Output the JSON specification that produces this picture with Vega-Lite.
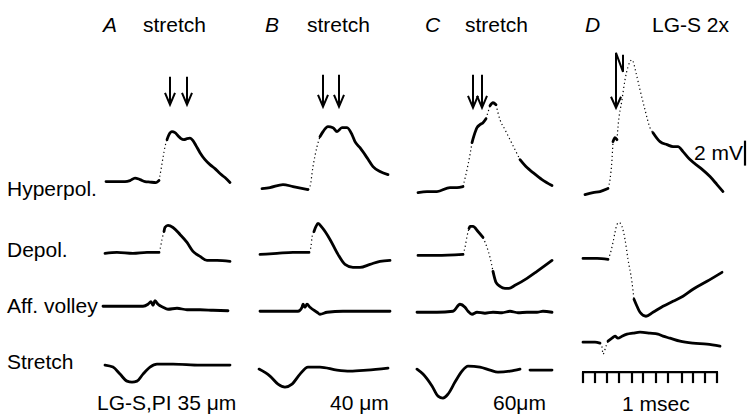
{
  "$schema": "https://vega.github.io/schema/vega-lite/v6.json",
  "width": 747,
  "height": 415,
  "padding": 0,
  "autosize": {"type": "fit", "contains": "padding"},
  "background": "white",
  "config": {"view": {"stroke": null}},
  "datasets": {
    "traces": [
      {"seg":"A-h-1","k":"slow","x":106,"y":182},{"seg":"A-h-1","k":"slow","x":115,"y":182},{"seg":"A-h-1","k":"slow","x":125,"y":182},{"seg":"A-h-1","k":"slow","x":130,"y":181},{"seg":"A-h-1","k":"slow","x":135,"y":178.5},{"seg":"A-h-1","k":"slow","x":140,"y":180},{"seg":"A-h-1","k":"slow","x":145,"y":182},{"seg":"A-h-1","k":"slow","x":150,"y":182.5},{"seg":"A-h-1","k":"slow","x":156,"y":183},{"seg":"A-h-1","k":"slow","x":159,"y":181},
      {"seg":"A-h-2","k":"fast","x":159,"y":181},{"seg":"A-h-2","k":"fast","x":161,"y":170},{"seg":"A-h-2","k":"fast","x":163,"y":158},{"seg":"A-h-2","k":"fast","x":165,"y":147},{"seg":"A-h-2","k":"fast","x":167,"y":140},
      {"seg":"A-h-3","k":"slow","x":167,"y":140},{"seg":"A-h-3","k":"slow","x":169,"y":135},{"seg":"A-h-3","k":"slow","x":172,"y":132},{"seg":"A-h-3","k":"slow","x":175,"y":133},{"seg":"A-h-3","k":"slow","x":178,"y":136},{"seg":"A-h-3","k":"slow","x":181,"y":139},{"seg":"A-h-3","k":"slow","x":184,"y":140},{"seg":"A-h-3","k":"slow","x":187,"y":139},{"seg":"A-h-3","k":"slow","x":190,"y":138.5},{"seg":"A-h-3","k":"slow","x":193,"y":141},{"seg":"A-h-3","k":"slow","x":196,"y":146},{"seg":"A-h-3","k":"slow","x":200,"y":153},{"seg":"A-h-3","k":"slow","x":205,"y":160},{"seg":"A-h-3","k":"slow","x":210,"y":165},{"seg":"A-h-3","k":"slow","x":215,"y":169},{"seg":"A-h-3","k":"slow","x":220,"y":174},{"seg":"A-h-3","k":"slow","x":225,"y":178},{"seg":"A-h-3","k":"slow","x":230,"y":183},

      {"seg":"B-h-1","k":"slow","x":262,"y":189},{"seg":"B-h-1","k":"slow","x":270,"y":188},{"seg":"B-h-1","k":"slow","x":283,"y":185},{"seg":"B-h-1","k":"slow","x":293,"y":187},{"seg":"B-h-1","k":"slow","x":308,"y":190},
      {"seg":"B-h-2","k":"fast","x":308,"y":190},{"seg":"B-h-2","k":"fast","x":310,"y":187},{"seg":"B-h-2","k":"fast","x":313,"y":167},{"seg":"B-h-2","k":"fast","x":317,"y":147},{"seg":"B-h-2","k":"fast","x":320,"y":137},
      {"seg":"B-h-3","k":"slow","x":320,"y":137},{"seg":"B-h-3","k":"slow","x":323,"y":132},{"seg":"B-h-3","k":"slow","x":328,"y":127},{"seg":"B-h-3","k":"slow","x":333,"y":128},{"seg":"B-h-3","k":"slow","x":337,"y":132},{"seg":"B-h-3","k":"slow","x":342,"y":128},{"seg":"B-h-3","k":"slow","x":347,"y":128},{"seg":"B-h-3","k":"slow","x":352,"y":135},{"seg":"B-h-3","k":"slow","x":355,"y":142},{"seg":"B-h-3","k":"slow","x":360,"y":148},{"seg":"B-h-3","k":"slow","x":367,"y":158},{"seg":"B-h-3","k":"slow","x":373,"y":167},{"seg":"B-h-3","k":"slow","x":380,"y":172},{"seg":"B-h-3","k":"slow","x":388,"y":175},

      {"seg":"C-h-1","k":"slow","x":418,"y":193},{"seg":"C-h-1","k":"slow","x":427,"y":192},{"seg":"C-h-1","k":"slow","x":437,"y":192},{"seg":"C-h-1","k":"slow","x":450,"y":188},{"seg":"C-h-1","k":"slow","x":457,"y":188},{"seg":"C-h-1","k":"slow","x":463,"y":187},
      {"seg":"C-h-2","k":"fast","x":463,"y":187},{"seg":"C-h-2","k":"fast","x":467,"y":170},{"seg":"C-h-2","k":"fast","x":470,"y":155},{"seg":"C-h-2","k":"fast","x":472,"y":143},
      {"seg":"C-h-3","k":"slow","x":472,"y":143},{"seg":"C-h-3","k":"slow","x":474,"y":136},{"seg":"C-h-3","k":"slow","x":477,"y":128},{"seg":"C-h-3","k":"slow","x":480,"y":125},{"seg":"C-h-3","k":"slow","x":483,"y":123},{"seg":"C-h-3","k":"slow","x":486,"y":119},
      {"seg":"C-h-4","k":"fast","x":486,"y":119},{"seg":"C-h-4","k":"fast","x":490,"y":106},
      {"seg":"C-h-5","k":"slow","x":490,"y":106},{"seg":"C-h-5","k":"slow","x":493,"y":103},{"seg":"C-h-5","k":"slow","x":496,"y":105},
      {"seg":"C-h-6","k":"fast","x":496,"y":105},{"seg":"C-h-6","k":"fast","x":500,"y":120},{"seg":"C-h-6","k":"fast","x":505,"y":130},{"seg":"C-h-6","k":"fast","x":510,"y":140},{"seg":"C-h-6","k":"fast","x":515,"y":150},{"seg":"C-h-6","k":"fast","x":520,"y":160},
      {"seg":"C-h-7","k":"slow","x":520,"y":160},{"seg":"C-h-7","k":"slow","x":527,"y":168},{"seg":"C-h-7","k":"slow","x":533,"y":173},{"seg":"C-h-7","k":"slow","x":542,"y":180},{"seg":"C-h-7","k":"slow","x":552,"y":186},

      {"seg":"D-h-1","k":"slow","x":585,"y":195},{"seg":"D-h-1","k":"slow","x":593,"y":193},{"seg":"D-h-1","k":"slow","x":600,"y":192},{"seg":"D-h-1","k":"slow","x":608,"y":189},
      {"seg":"D-h-2","k":"fast","x":608,"y":189},{"seg":"D-h-2","k":"fast","x":610,"y":180},{"seg":"D-h-2","k":"fast","x":612,"y":160},{"seg":"D-h-2","k":"fast","x":613,"y":142},
      {"seg":"D-h-3","k":"slow","x":613,"y":142},{"seg":"D-h-3","k":"slow","x":615,"y":138},{"seg":"D-h-3","k":"slow","x":617,"y":140},
      {"seg":"D-h-4","k":"fast","x":617,"y":140},{"seg":"D-h-4","k":"fast","x":618,"y":127},{"seg":"D-h-4","k":"fast","x":622,"y":100},{"seg":"D-h-4","k":"fast","x":625,"y":80},{"seg":"D-h-4","k":"fast","x":628,"y":67},{"seg":"D-h-4","k":"fast","x":632,"y":60},{"seg":"D-h-4","k":"fast","x":636,"y":73},{"seg":"D-h-4","k":"fast","x":640,"y":90},{"seg":"D-h-4","k":"fast","x":645,"y":110},{"seg":"D-h-4","k":"fast","x":650,"y":128},{"seg":"D-h-4","k":"fast","x":653,"y":133},
      {"seg":"D-h-5","k":"slow","x":653,"y":133},{"seg":"D-h-5","k":"slow","x":660,"y":142},{"seg":"D-h-5","k":"slow","x":667,"y":145},{"seg":"D-h-5","k":"slow","x":673,"y":147},{"seg":"D-h-5","k":"slow","x":678,"y":147},{"seg":"D-h-5","k":"slow","x":683,"y":152},{"seg":"D-h-5","k":"slow","x":690,"y":160},{"seg":"D-h-5","k":"slow","x":700,"y":168},{"seg":"D-h-5","k":"slow","x":710,"y":177},{"seg":"D-h-5","k":"slow","x":717,"y":185},{"seg":"D-h-5","k":"slow","x":723,"y":192},

      {"seg":"A-d-1","k":"slow","x":105,"y":254},{"seg":"A-d-1","k":"slow","x":117,"y":253},{"seg":"A-d-1","k":"slow","x":133,"y":254},{"seg":"A-d-1","k":"slow","x":147,"y":253},{"seg":"A-d-1","k":"slow","x":159,"y":253},
      {"seg":"A-d-2","k":"fast","x":159,"y":253},{"seg":"A-d-2","k":"fast","x":160,"y":250},{"seg":"A-d-2","k":"fast","x":162,"y":240},{"seg":"A-d-2","k":"fast","x":164,"y":232},
      {"seg":"A-d-3","k":"slow","x":164,"y":232},{"seg":"A-d-3","k":"slow","x":165,"y":228},{"seg":"A-d-3","k":"slow","x":168,"y":226},{"seg":"A-d-3","k":"slow","x":173,"y":228},{"seg":"A-d-3","k":"slow","x":180,"y":235},{"seg":"A-d-3","k":"slow","x":187,"y":243},{"seg":"A-d-3","k":"slow","x":193,"y":252},{"seg":"A-d-3","k":"slow","x":200,"y":257},{"seg":"A-d-3","k":"slow","x":207,"y":261},{"seg":"A-d-3","k":"slow","x":217,"y":261},{"seg":"A-d-3","k":"slow","x":230,"y":262},

      {"seg":"B-d-1","k":"slow","x":260,"y":255},{"seg":"B-d-1","k":"slow","x":277,"y":254},{"seg":"B-d-1","k":"slow","x":293,"y":253},{"seg":"B-d-1","k":"slow","x":309,"y":253},
      {"seg":"B-d-2","k":"fast","x":309,"y":253},{"seg":"B-d-2","k":"fast","x":311,"y":247},{"seg":"B-d-2","k":"fast","x":312,"y":238},{"seg":"B-d-2","k":"fast","x":314,"y":232},
      {"seg":"B-d-3","k":"slow","x":314,"y":232},{"seg":"B-d-3","k":"slow","x":316,"y":227},{"seg":"B-d-3","k":"slow","x":318,"y":224},{"seg":"B-d-3","k":"slow","x":322,"y":228},{"seg":"B-d-3","k":"slow","x":330,"y":240},{"seg":"B-d-3","k":"slow","x":338,"y":255},{"seg":"B-d-3","k":"slow","x":345,"y":265},{"seg":"B-d-3","k":"slow","x":353,"y":268},{"seg":"B-d-3","k":"slow","x":360,"y":268},{"seg":"B-d-3","k":"slow","x":370,"y":265},{"seg":"B-d-3","k":"slow","x":380,"y":262},{"seg":"B-d-3","k":"slow","x":390,"y":261},

      {"seg":"C-d-1","k":"slow","x":418,"y":256},{"seg":"C-d-1","k":"slow","x":437,"y":256},{"seg":"C-d-1","k":"slow","x":463,"y":255},
      {"seg":"C-d-2","k":"fast","x":463,"y":255},{"seg":"C-d-2","k":"fast","x":465,"y":248},{"seg":"C-d-2","k":"fast","x":467,"y":237},{"seg":"C-d-2","k":"fast","x":469,"y":229},
      {"seg":"C-d-3","k":"slow","x":469,"y":229},{"seg":"C-d-3","k":"slow","x":470,"y":227},{"seg":"C-d-3","k":"slow","x":473,"y":227},{"seg":"C-d-3","k":"slow","x":478,"y":232},{"seg":"C-d-3","k":"slow","x":483,"y":238},
      {"seg":"C-d-4","k":"fast","x":483,"y":238},{"seg":"C-d-4","k":"fast","x":487,"y":248},{"seg":"C-d-4","k":"fast","x":490,"y":258},{"seg":"C-d-4","k":"fast","x":493,"y":272},
      {"seg":"C-d-5","k":"slow","x":493,"y":272},{"seg":"C-d-5","k":"slow","x":496,"y":283},{"seg":"C-d-5","k":"slow","x":500,"y":287},{"seg":"C-d-5","k":"slow","x":505,"y":289},{"seg":"C-d-5","k":"slow","x":509,"y":289},{"seg":"C-d-5","k":"slow","x":515,"y":286},{"seg":"C-d-5","k":"slow","x":527,"y":279},{"seg":"C-d-5","k":"slow","x":537,"y":272},{"seg":"C-d-5","k":"slow","x":552,"y":261},

      {"seg":"D-d-1","k":"slow","x":583,"y":259},{"seg":"D-d-1","k":"slow","x":597,"y":259},{"seg":"D-d-1","k":"slow","x":608,"y":260},
      {"seg":"D-d-2","k":"fast","x":608,"y":260},{"seg":"D-d-2","k":"fast","x":610,"y":255},{"seg":"D-d-2","k":"fast","x":613,"y":243},{"seg":"D-d-2","k":"fast","x":615,"y":233},{"seg":"D-d-2","k":"fast","x":617,"y":225},{"seg":"D-d-2","k":"fast","x":619,"y":223},{"seg":"D-d-2","k":"fast","x":622,"y":227},{"seg":"D-d-2","k":"fast","x":625,"y":240},{"seg":"D-d-2","k":"fast","x":628,"y":260},{"seg":"D-d-2","k":"fast","x":632,"y":283},{"seg":"D-d-2","k":"fast","x":634,"y":300},
      {"seg":"D-d-3","k":"slow","x":634,"y":300},{"seg":"D-d-3","k":"slow","x":637,"y":307},{"seg":"D-d-3","k":"slow","x":640,"y":313},{"seg":"D-d-3","k":"slow","x":646,"y":317},{"seg":"D-d-3","k":"slow","x":653,"y":313},{"seg":"D-d-3","k":"slow","x":663,"y":307},{"seg":"D-d-3","k":"slow","x":673,"y":302},{"seg":"D-d-3","k":"slow","x":683,"y":297},{"seg":"D-d-3","k":"slow","x":693,"y":290},{"seg":"D-d-3","k":"slow","x":707,"y":282},{"seg":"D-d-3","k":"slow","x":722,"y":273},

      {"seg":"A-a-1","k":"slow","x":103,"y":307},{"seg":"A-a-1","k":"slow","x":143,"y":307},{"seg":"A-a-1","k":"slow","x":148,"y":305},{"seg":"A-a-1","k":"slow","x":151,"y":302.5},{"seg":"A-a-1","k":"slow","x":153,"y":306},{"seg":"A-a-1","k":"slow","x":155,"y":301.5},{"seg":"A-a-1","k":"slow","x":158,"y":305},{"seg":"A-a-1","k":"slow","x":163,"y":308},{"seg":"A-a-1","k":"slow","x":168,"y":310},{"seg":"A-a-1","k":"slow","x":177,"y":309},{"seg":"A-a-1","k":"slow","x":187,"y":310.5},{"seg":"A-a-1","k":"slow","x":200,"y":310.5},{"seg":"A-a-1","k":"slow","x":213,"y":311},{"seg":"A-a-1","k":"slow","x":228,"y":311.5},

      {"seg":"B-a-1","k":"slow","x":260,"y":312},{"seg":"B-a-1","k":"slow","x":283,"y":312},{"seg":"B-a-1","k":"slow","x":298,"y":312},{"seg":"B-a-1","k":"slow","x":302,"y":308},{"seg":"B-a-1","k":"slow","x":303,"y":305},{"seg":"B-a-1","k":"slow","x":305,"y":308},{"seg":"B-a-1","k":"slow","x":307,"y":305},{"seg":"B-a-1","k":"slow","x":310,"y":308},{"seg":"B-a-1","k":"slow","x":317,"y":313},{"seg":"B-a-1","k":"slow","x":320,"y":315},{"seg":"B-a-1","k":"slow","x":327,"y":313},{"seg":"B-a-1","k":"slow","x":343,"y":312},{"seg":"B-a-1","k":"slow","x":367,"y":312},{"seg":"B-a-1","k":"slow","x":390,"y":312},

      {"seg":"C-a-1","k":"slow","x":417,"y":313},{"seg":"C-a-1","k":"slow","x":437,"y":313},{"seg":"C-a-1","k":"slow","x":453,"y":312},{"seg":"C-a-1","k":"slow","x":460,"y":305},{"seg":"C-a-1","k":"slow","x":465,"y":308},{"seg":"C-a-1","k":"slow","x":468,"y":312},{"seg":"C-a-1","k":"slow","x":472,"y":315},{"seg":"C-a-1","k":"slow","x":477,"y":313},{"seg":"C-a-1","k":"slow","x":485,"y":314},{"seg":"C-a-1","k":"slow","x":493,"y":313},{"seg":"C-a-1","k":"slow","x":502,"y":313.5},{"seg":"C-a-1","k":"slow","x":510,"y":312},{"seg":"C-a-1","k":"slow","x":518,"y":313.5},{"seg":"C-a-1","k":"slow","x":527,"y":313},{"seg":"C-a-1","k":"slow","x":537,"y":313},{"seg":"C-a-1","k":"slow","x":543,"y":312},{"seg":"C-a-1","k":"slow","x":552,"y":313},

      {"seg":"D-a-1","k":"slow","x":583,"y":343},{"seg":"D-a-1","k":"slow","x":595,"y":343},{"seg":"D-a-1","k":"slow","x":600,"y":344},
      {"seg":"D-a-2","k":"fast","x":600,"y":344},{"seg":"D-a-2","k":"fast","x":602,"y":348},{"seg":"D-a-2","k":"fast","x":603,"y":355},{"seg":"D-a-2","k":"fast","x":606,"y":347},{"seg":"D-a-2","k":"fast","x":608,"y":342},
      {"seg":"D-a-3","k":"slow","x":608,"y":342},{"seg":"D-a-3","k":"slow","x":612,"y":339},{"seg":"D-a-3","k":"slow","x":615,"y":337},{"seg":"D-a-3","k":"slow","x":618,"y":339},{"seg":"D-a-3","k":"slow","x":622,"y":337},{"seg":"D-a-3","k":"slow","x":627,"y":335},{"seg":"D-a-3","k":"slow","x":633,"y":334},{"seg":"D-a-3","k":"slow","x":640,"y":333},{"seg":"D-a-3","k":"slow","x":650,"y":334},{"seg":"D-a-3","k":"slow","x":658,"y":335},{"seg":"D-a-3","k":"slow","x":663,"y":337},{"seg":"D-a-3","k":"slow","x":670,"y":339},{"seg":"D-a-3","k":"slow","x":680,"y":342},{"seg":"D-a-3","k":"slow","x":693,"y":344},{"seg":"D-a-3","k":"slow","x":707,"y":345},{"seg":"D-a-3","k":"slow","x":720,"y":347},

      {"seg":"A-s-1","k":"slow","x":105,"y":366},{"seg":"A-s-1","k":"slow","x":113,"y":368},{"seg":"A-s-1","k":"slow","x":120,"y":375},{"seg":"A-s-1","k":"slow","x":127,"y":382},{"seg":"A-s-1","k":"slow","x":132,"y":383},{"seg":"A-s-1","k":"slow","x":137,"y":382},{"seg":"A-s-1","k":"slow","x":143,"y":375},{"seg":"A-s-1","k":"slow","x":150,"y":368},{"seg":"A-s-1","k":"slow","x":157,"y":365},{"seg":"A-s-1","k":"slow","x":173,"y":365},{"seg":"A-s-1","k":"slow","x":200,"y":366},{"seg":"A-s-1","k":"slow","x":230,"y":366},

      {"seg":"B-s-1","k":"slow","x":259,"y":370},{"seg":"B-s-1","k":"slow","x":270,"y":377},{"seg":"B-s-1","k":"slow","x":278,"y":385},{"seg":"B-s-1","k":"slow","x":285,"y":388},{"seg":"B-s-1","k":"slow","x":292,"y":385},{"seg":"B-s-1","k":"slow","x":300,"y":375},{"seg":"B-s-1","k":"slow","x":308,"y":368},{"seg":"B-s-1","k":"slow","x":320,"y":368},{"seg":"B-s-1","k":"slow","x":337,"y":371},{"seg":"B-s-1","k":"slow","x":350,"y":372},{"seg":"B-s-1","k":"slow","x":367,"y":371},{"seg":"B-s-1","k":"slow","x":388,"y":369},

      {"seg":"C-s-1","k":"slow","x":417,"y":370},{"seg":"C-s-1","k":"slow","x":423,"y":375},{"seg":"C-s-1","k":"slow","x":432,"y":387},{"seg":"C-s-1","k":"slow","x":438,"y":397},{"seg":"C-s-1","k":"slow","x":443,"y":399},{"seg":"C-s-1","k":"slow","x":448,"y":395},{"seg":"C-s-1","k":"slow","x":455,"y":383},{"seg":"C-s-1","k":"slow","x":462,"y":372},{"seg":"C-s-1","k":"slow","x":468,"y":367},{"seg":"C-s-1","k":"slow","x":480,"y":368},{"seg":"C-s-1","k":"slow","x":490,"y":371},{"seg":"C-s-1","k":"slow","x":498,"y":373},{"seg":"C-s-1","k":"slow","x":510,"y":372},{"seg":"C-s-1","k":"slow","x":520,"y":370},
      {"seg":"C-s-2","k":"slow","x":530,"y":371},{"seg":"C-s-2","k":"slow","x":552,"y":371}
    ],
    "arrows": [
      {"seg":"A1s","i":0,"x":170,"y":77},{"seg":"A1s","i":1,"x":170,"y":105},
      {"seg":"A1h","i":0,"x":165,"y":93},{"seg":"A1h","i":1,"x":170,"y":105},{"seg":"A1h","i":2,"x":175,"y":93},
      {"seg":"A2s","i":0,"x":187,"y":77},{"seg":"A2s","i":1,"x":187,"y":105},
      {"seg":"A2h","i":0,"x":182,"y":93},{"seg":"A2h","i":1,"x":187,"y":105},{"seg":"A2h","i":2,"x":192,"y":93},
      {"seg":"B1s","i":0,"x":323,"y":75},{"seg":"B1s","i":1,"x":323,"y":107},
      {"seg":"B1h","i":0,"x":318,"y":95},{"seg":"B1h","i":1,"x":323,"y":107},{"seg":"B1h","i":2,"x":328,"y":95},
      {"seg":"B2s","i":0,"x":339,"y":75},{"seg":"B2s","i":1,"x":339,"y":107},
      {"seg":"B2h","i":0,"x":334,"y":95},{"seg":"B2h","i":1,"x":339,"y":107},{"seg":"B2h","i":2,"x":344,"y":95},
      {"seg":"C1s","i":0,"x":473,"y":75},{"seg":"C1s","i":1,"x":473,"y":108},
      {"seg":"C1h","i":0,"x":468,"y":96},{"seg":"C1h","i":1,"x":473,"y":108},{"seg":"C1h","i":2,"x":478,"y":96},
      {"seg":"C2s","i":0,"x":482,"y":75},{"seg":"C2s","i":1,"x":482,"y":108},
      {"seg":"C2h","i":0,"x":477,"y":96},{"seg":"C2h","i":1,"x":482,"y":108},{"seg":"C2h","i":2,"x":487,"y":96},
      {"seg":"D1s","i":0,"x":616,"y":53},{"seg":"D1s","i":1,"x":616,"y":108},
      {"seg":"D1h","i":0,"x":611,"y":97},{"seg":"D1h","i":1,"x":616,"y":108},{"seg":"D1h","i":2,"x":621,"y":97},
      {"seg":"D2n","i":0,"x":616,"y":53},{"seg":"D2n","i":1,"x":623,"y":72},{"seg":"D2n","i":2,"x":623,"y":55}
    ],
    "bars": [
      {"x":582,"x2":718,"y":373,"y2":373},
      {"x":583,"x2":583,"y":373,"y2":384},
      {"x":595,"x2":595,"y":373,"y2":384},
      {"x":607,"x2":607,"y":373,"y2":384},
      {"x":619,"x2":619,"y":373,"y2":384},
      {"x":632,"x2":632,"y":373,"y2":384},
      {"x":643,"x2":643,"y":373,"y2":384},
      {"x":656,"x2":656,"y":373,"y2":384},
      {"x":668,"x2":668,"y":373,"y2":384},
      {"x":682,"x2":682,"y":373,"y2":384},
      {"x":693,"x2":693,"y":373,"y2":384},
      {"x":705,"x2":705,"y":373,"y2":384},
      {"x":717,"x2":717,"y":373,"y2":384},
      {"x":745,"x2":745,"y":141,"y2":166}
    ],
    "labels": [
      {"role":"panel","text":"A","x":103,"y":32},
      {"role":"panel","text":"B","x":265,"y":32},
      {"role":"panel","text":"C","x":425,"y":32},
      {"role":"panel","text":"D","x":585,"y":32},
      {"role":"text","text":"stretch","x":143,"y":32},
      {"role":"text","text":"stretch","x":307,"y":32},
      {"role":"text","text":"stretch","x":465,"y":32},
      {"role":"text","text":"LG-S 2x","x":652,"y":32},
      {"role":"text","text":"Hyperpol.","x":7,"y":196},
      {"role":"text","text":"Depol.","x":7,"y":258},
      {"role":"text","text":"Aff. volley","x":7,"y":314},
      {"role":"text","text":"Stretch","x":7,"y":370},
      {"role":"text","text":"LG-S,PI 35 μm","x":97,"y":411},
      {"role":"text","text":"40 μm","x":330,"y":411},
      {"role":"text","text":"60μm","x":493,"y":411},
      {"role":"text","text":"1 msec","x":622,"y":412},
      {"role":"text","text":"2 mV","x":694,"y":160}
    ]
  },
  "encoding": {
    "x": {"field": "x", "type": "quantitative", "scale": {"domain": [0, 747], "nice": false, "zero": false}, "axis": null},
    "y": {"field": "y", "type": "quantitative", "scale": {"domain": [0, 415], "nice": false, "zero": false, "reverse": true}, "axis": null}
  },
  "layer": [
    {
      "data": {"name": "traces"},
      "transform": [{"filter": "datum.k === 'slow'"}],
      "mark": {"type": "line", "color": "black", "strokeWidth": 2.8, "strokeCap": "round", "strokeJoin": "round", "interpolate": "monotone"},
      "encoding": {"detail": {"field": "seg"}}
    },
    {
      "data": {"name": "traces"},
      "transform": [{"filter": "datum.k === 'fast'"}],
      "mark": {"type": "line", "color": "black", "strokeWidth": 1.2, "strokeDash": [1.2, 2.8], "interpolate": "monotone"},
      "encoding": {"detail": {"field": "seg"}}
    },
    {
      "data": {"name": "arrows"},
      "mark": {"type": "line", "color": "black", "strokeWidth": 2},
      "encoding": {"detail": {"field": "seg"}, "order": {"field": "i", "type": "quantitative"}}
    },
    {
      "data": {"name": "bars"},
      "mark": {"type": "rule", "color": "black", "strokeWidth": 2.2},
      "encoding": {"x2": {"field": "x2"}, "y2": {"field": "y2"}}
    },
    {
      "data": {"name": "labels"},
      "transform": [{"filter": "datum.role === 'text'"}],
      "mark": {"type": "text", "align": "left", "baseline": "alphabetic", "font": "Liberation Sans", "fontSize": 21, "color": "black"},
      "encoding": {"text": {"field": "text"}}
    },
    {
      "data": {"name": "labels"},
      "transform": [{"filter": "datum.role === 'panel'"}],
      "mark": {"type": "text", "align": "left", "baseline": "alphabetic", "font": "Liberation Sans", "fontSize": 21, "fontStyle": "italic", "color": "black"},
      "encoding": {"text": {"field": "text"}}
    }
  ]
}
